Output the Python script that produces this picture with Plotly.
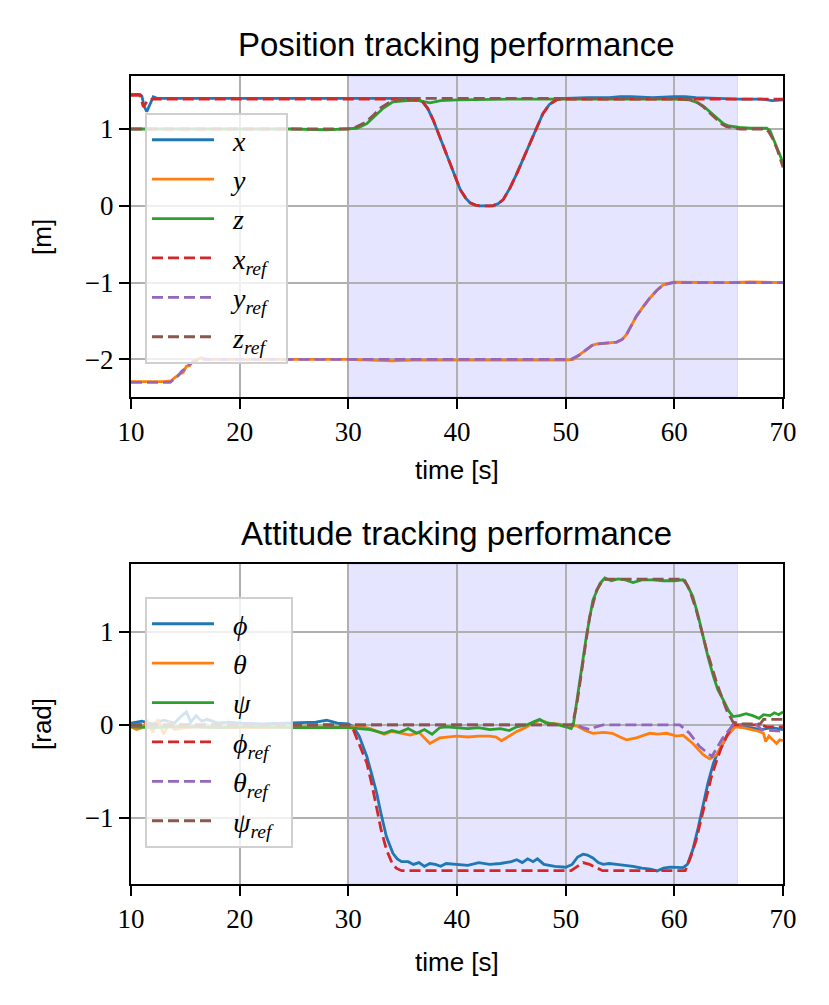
import plotly.graph_objects as go

# ---------------- data ----------------
# top panel: position [m]
t_x = [10, 10.8, 11.0, 11.2, 11.45, 11.7, 12.05, 12.4, 15, 20, 25, 30, 36.0, 36.8, 37.3, 37.8,
       38.3, 38.7, 39.35, 39.8, 40.3, 40.8, 41.2, 41.7, 42.1, 43.3, 43.8, 44.25, 44.9, 45.5,
       46.1, 46.7, 47.3, 47.9, 48.5, 49.2, 50, 52, 54, 55, 56, 58, 60, 61, 62, 64, 66, 68, 69, 70]
pos_x = [1.45, 1.45, 1.43, 1.30, 1.225, 1.30, 1.42, 1.40, 1.40, 1.40, 1.40, 1.40, 1.40, 1.36, 1.27, 1.12,
         0.94, 0.77, 0.56, 0.38, 0.21, 0.10, 0.04, 0.01, 0.0, 0.0, 0.03, 0.08, 0.24, 0.42,
         0.62, 0.81, 1.01, 1.20, 1.32, 1.385, 1.40, 1.41, 1.41, 1.42, 1.42, 1.41, 1.42, 1.42, 1.41, 1.40, 1.39, 1.39, 1.37, 1.38]

t_xref = [10, 10.83, 11.13, 11.59, 12.0, 20, 30, 36.0, 36.8, 37.3, 37.8, 38.3, 38.7, 39.35, 39.8,
          40.3, 40.8, 41.2, 41.7, 42.1, 43.3, 43.8, 44.25, 44.9, 45.5, 46.1, 46.7, 47.3, 47.9,
          48.5, 49.2, 50, 60, 70]
pos_xref = [1.44, 1.44, 1.29, 1.38, 1.39, 1.39, 1.39, 1.39, 1.36, 1.27, 1.12, 0.94, 0.77, 0.56, 0.38,
            0.21, 0.10, 0.04, 0.01, 0.0, 0.0, 0.03, 0.08, 0.24, 0.42, 0.62, 0.81, 1.01, 1.20,
            1.32, 1.385, 1.39, 1.39, 1.39]

t_y = [10, 13.0, 13.7, 14.0, 14.5, 14.8, 15.1, 15.4, 15.7, 16.0, 16.4, 17, 20, 25, 30, 32, 34, 36,
       40, 45, 50, 50.7, 51.3, 51.9, 52.4, 52.85, 53.8, 54.7, 55.2, 55.6, 56.0, 56.5, 57.1, 57.75,
       58.4, 58.97, 59.9, 62, 65, 67, 70]
pos_y = [-2.29, -2.29, -2.28, -2.24, -2.19, -2.17, -2.09, -2.08, -2.02, -2.01, -1.98, -2.0, -2.0, -2.0, -2.0, -2.01, -2.02, -2.01,
         -2.01, -2.01, -2.01, -2.0, -1.94, -1.87, -1.82, -1.80, -1.79, -1.775, -1.74, -1.675, -1.57, -1.44, -1.32, -1.20,
         -1.10, -1.03, -0.995, -1.0, -1.0, -0.99, -1.0]

t_yref = [10, 13.6, 14.3, 14.7, 15.0, 15.4, 15.8, 16.3, 30, 50.5, 51.3, 51.9, 52.4, 52.85, 53.8,
          54.7, 55.2, 55.6, 56.0, 56.5, 57.1, 57.75, 58.4, 58.97, 59.9, 70]
pos_yref = [-2.30, -2.30, -2.22, -2.15, -2.12, -2.06, -2.03, -2.0, -2.0, -2.0, -1.94, -1.87, -1.82, -1.80, -1.79,
            -1.775, -1.74, -1.675, -1.57, -1.44, -1.32, -1.20, -1.10, -1.03, -1.0, -1.0]

t_z = [10, 20, 25, 28, 30, 30.8, 31.7, 32.4, 33.2, 34.1, 35.4, 36.5, 37.5, 38.5, 40, 45, 50, 55, 60,
       61.4, 62.0, 62.65, 63.3, 63.9, 64.5, 65.0, 66.0, 67, 68.5, 68.8, 69.25, 69.6, 70]
pos_z = [1.00, 1.00, 1.00, 0.99, 1.00, 1.01, 1.07, 1.16, 1.27, 1.355, 1.37, 1.37, 1.34, 1.37, 1.38, 1.39, 1.39, 1.39, 1.39,
         1.38, 1.35, 1.30, 1.22, 1.14, 1.07, 1.04, 1.02, 1.01, 1.01, 0.98, 0.81, 0.70, 0.56]

t_zref = [10, 30, 30.6, 31.5, 32.3, 33.0, 33.8, 34.6, 35.5, 36.5, 50, 60, 61.4, 62.0, 62.65, 63.3,
          63.9, 64.4, 64.8, 65.5, 66.0, 68.4, 68.7, 69.1, 69.5, 70]
pos_zref = [1.00, 1.00, 1.02, 1.08, 1.18, 1.28, 1.35, 1.385, 1.40, 1.40, 1.40, 1.40, 1.39, 1.36, 1.29, 1.20,
            1.12, 1.06, 1.03, 1.01, 1.00, 1.00, 0.96, 0.86, 0.72, 0.50]

# bottom panel: attitude [rad]
t_phi = [10, 11, 12, 13, 14, 14.5, 15.1, 15.5, 16, 16.5, 17, 18, 19, 20, 22, 24, 26, 27, 28, 29, 30,
         30.45, 31.0, 31.7, 32.2, 32.6, 33.0, 33.5, 34.1, 34.5, 34.9, 35.5, 36, 36.5, 37, 37.5, 38,
         38.5, 39, 40, 41, 42, 43, 44, 45, 45.5, 46, 46.5, 47, 47.4, 48, 49, 50, 50.6, 51.1, 51.6,
         52.0, 52.5, 53.0, 53.45, 54, 54.7, 55.5, 56.2, 57, 57.8, 58.4, 59, 59.6, 60.8, 61.2, 61.7,
         62.2, 62.65, 63.1, 63.6, 64.0, 64.35, 64.9, 65.4, 66, 67, 68, 69, 70]
att_phi = [0.02, 0.04, 0.01, 0.05, 0.02, 0.08, 0.14, 0.03, 0.10, 0.04, 0.06, 0.02, 0.03, 0.02, 0.01, 0.02, 0.03, 0.03, 0.05, 0.02, 0.01,
           -0.02, -0.12, -0.34, -0.55, -0.73, -0.95, -1.20, -1.38, -1.44, -1.47, -1.47, -1.50, -1.48, -1.52, -1.49, -1.50,
           -1.52, -1.49, -1.50, -1.51, -1.48, -1.50, -1.49, -1.47, -1.45, -1.48, -1.44, -1.47, -1.44, -1.50, -1.52, -1.53, -1.50, -1.42, -1.39,
           -1.40, -1.43, -1.48, -1.50, -1.49, -1.50, -1.51, -1.52, -1.54, -1.55, -1.57, -1.54, -1.53, -1.535, -1.50, -1.34,
           -1.10, -0.84, -0.62, -0.41, -0.30, -0.23, -0.10, 0.0, -0.02, -0.03, -0.05, -0.03, -0.05]

t_theta = [10, 10.5, 11, 11.5, 12, 12.5, 13, 13.5, 14, 15, 16, 18, 20, 22, 25, 28, 30, 31, 32, 33.3,
           34, 35, 35.7, 36.5, 37.5, 38.4, 39, 40, 41, 42, 43, 43.6, 44.1, 44.8, 45.5, 46.1, 46.7,
           47.6, 48.5, 50, 51.0, 51.8, 52.5, 53.5, 54.3, 55.0, 55.6, 56.5, 57.75, 58.5, 59.3, 60.2,
           60.8, 61.7, 62.65, 63.25, 63.9, 64.8, 65.6, 66.3, 67.0, 67.8, 68.2, 68.4, 68.7, 69.0,
           69.4, 69.7, 70]
att_theta = [-0.02, -0.05, -0.03, 0.04, -0.08, 0.06, -0.10, 0.02, -0.05, -0.03, -0.02, -0.03, -0.03, -0.03, -0.02, -0.03, -0.02, -0.01, -0.04, -0.10,
             -0.07, -0.09, -0.11, -0.08, -0.20, -0.14, -0.13, -0.12, -0.13, -0.12, -0.12, -0.13, -0.17, -0.12, -0.07, -0.04, 0.0,
             0.05, 0.02, 0.0, -0.01, -0.06, -0.09, -0.08, -0.09, -0.13, -0.16, -0.14, -0.09, -0.10, -0.09, -0.12,
             -0.11, -0.20, -0.32, -0.365, -0.32, -0.125, -0.02, -0.03, -0.05, -0.07, -0.09, -0.18, -0.12, -0.15,
             -0.20, -0.16, -0.17]

t_psi = [10, 12, 14, 16, 18, 20, 22, 25, 28, 30, 31, 32, 33.3, 34, 34.7, 35.5, 36.3, 37, 37.7, 38.4,
         39, 40, 41, 42, 43, 44, 44.8, 45.5, 46.4, 47.0, 47.6, 48.2, 49, 50, 50.5, 50.7, 51.3, 51.9,
         52.5, 53.15, 53.6, 54.2, 54.8, 55.5, 56.2, 57, 58, 59, 60, 60.8, 61.2, 61.7, 62.2, 62.65,
         63.1, 63.6, 64.0, 64.5, 65.0, 65.4, 66.0, 66.6, 67.2, 67.8, 68.2, 68.8, 69.2, 69.6, 70]
att_psi = [-0.02, -0.03, -0.02, -0.02, -0.03, -0.02, -0.02, -0.03, -0.03, -0.03, -0.04, -0.05, -0.09, -0.06, -0.08, -0.04, -0.09, -0.05, -0.10, -0.03,
           -0.02, -0.03, -0.04, -0.03, -0.05, -0.04, -0.06, -0.02, 0.0, 0.03, 0.06, 0.02, 0.01, -0.02, -0.04, 0.0, 0.45, 0.95,
           1.34, 1.52, 1.58, 1.55, 1.57, 1.56, 1.53, 1.56, 1.56, 1.55, 1.55, 1.56, 1.50, 1.38, 1.17, 0.95,
           0.73, 0.52, 0.38, 0.27, 0.15, 0.09, 0.10, 0.12, 0.10, 0.07, 0.11, 0.10, 0.13, 0.11, 0.14]

t_phiref = [10, 30, 30.45, 31.0, 31.7, 32.2, 32.6, 33.0, 33.5, 34.0, 34.4, 34.9, 50.5, 51.0, 51.6,
            52.2, 52.85, 53.4, 61.0, 61.5, 62.0, 62.5, 62.96, 63.4, 63.9, 64.3, 64.8, 65.4, 68.0, 68.5, 70]
att_phiref = [0, 0, -0.05, -0.20, -0.41, -0.66, -0.91, -1.12, -1.34, -1.48, -1.54, -1.567, -1.567, -1.53, -1.48,
              -1.50, -1.54, -1.567, -1.567, -1.42, -1.24, -1.00, -0.77, -0.56, -0.38, -0.25, -0.125, 0.0, 0.0, -0.02, -0.02]

t_thetaref = [10, 51.0, 51.6, 52.2, 52.8, 53.45, 60.5, 61.4, 62.3, 63.2, 63.45, 63.9, 64.4, 64.8, 65.4, 67.6, 68.0, 70]
att_thetaref = [0, 0, -0.03, -0.05, -0.02, 0, 0, -0.09, -0.23, -0.32, -0.34, -0.25, -0.15, -0.09, 0, 0, -0.05, -0.07]

t_psiref = [10, 50.6, 51.0, 51.6, 52.2, 52.85, 53.45, 54, 60.9, 61.4, 62.0, 62.96, 63.9, 64.8, 65.4, 66, 67.9, 68.2, 70]
att_psiref = [0, 0, 0.2, 0.66, 1.16, 1.45, 1.56, 1.567, 1.567, 1.45, 1.24, 0.81, 0.45, 0.16, 0.03, 0.01, 0.01, 0.06, 0.06]

shade_start, shade_end = 30, 65.8
x_ticks = [10, 20, 30, 40, 50, 60, 70]
pos_ticks = [-2, -1, 0, 1]
att_ticks = [-1, 0, 1]

# ---------------- figure ----------------
# page body has an 8px margin, so the figure is 16px smaller than the window
W, H = 813, 989
blue, orange, green, red, purple, brown = "#1f77b4", "#ff7f0e", "#2ca02c", "#d62728", "#9467bd", "#8c564b"
lw = 2.8
dash = "11px,5px"
pad = "&nbsp;&nbsp;"

fig = go.Figure()

def add(t, v, name, color, dashed, xa, ya, leg):
    fig.add_trace(go.Scatter(
        x=t, y=v, name=pad + name + pad, mode="lines", xaxis=xa, yaxis=ya, legend=leg,
        line=dict(color=color, width=lw, dash=dash if dashed else "solid"),
    ))

add(t_x, pos_x, "<i>x</i>", blue, False, "x", "y", "legend")
add(t_y, pos_y, "<i>y</i>", orange, False, "x", "y", "legend")
add(t_z, pos_z, "<i>z</i>", green, False, "x", "y", "legend")
add(t_xref, pos_xref, "<i>x</i><sub><i>ref</i></sub>", red, True, "x", "y", "legend")
add(t_yref, pos_yref, "<i>y</i><sub><i>ref</i></sub>", purple, True, "x", "y", "legend")
add(t_zref, pos_zref, "<i>z</i><sub><i>ref</i></sub>", brown, True, "x", "y", "legend")

add(t_phi, att_phi, "<i>ϕ</i>", blue, False, "x2", "y2", "legend2")
add(t_theta, att_theta, "<i>θ</i>", orange, False, "x2", "y2", "legend2")
add(t_psi, att_psi, "<i>ψ</i>", green, False, "x2", "y2", "legend2")
add(t_phiref, att_phiref, "<i>ϕ</i><sub><i>ref</i></sub>", red, True, "x2", "y2", "legend2")
add(t_thetaref, att_thetaref, "<i>θ</i><sub><i>ref</i></sub>", purple, True, "x2", "y2", "legend2")
add(t_psiref, att_psiref, "<i>ψ</i><sub><i>ref</i></sub>", brown, True, "x2", "y2", "legend2")

tickfont = dict(family="Liberation Serif", size=27, color="black")
axis_common = dict(
    showline=True, mirror=True, linecolor="black", linewidth=2.2,
    ticks="outside", ticklen=10, tickwidth=2.2, tickcolor="black",
    showgrid=True, gridcolor="#b0b0b0", gridwidth=1.5, zeroline=False,
    tickfont=tickfont, automargin=False,
)

legend_common = dict(
    bgcolor="rgba(255,255,255,0.8)", bordercolor="#d0d0d0", borderwidth=2,
    font=dict(family="Liberation Serif", size=28, color="black"),
    xanchor="left", yanchor="top", itemwidth=62, tracegroupgap=0,
)

fig.update_layout(
    width=W, height=H,
    margin=dict(l=0, r=0, t=0, b=0),
    paper_bgcolor="white", plot_bgcolor="white",
    xaxis=dict(domain=[0.1513, 0.9533], anchor="y", range=[10, 70], tickvals=x_ticks, **axis_common),
    yaxis=dict(domain=[0.6067, 0.9312], anchor="x", range=[-2.49, 1.69], tickvals=pos_ticks, **axis_common),
    xaxis2=dict(domain=[0.1513, 0.9533], anchor="y2", range=[10, 70], tickvals=x_ticks, **axis_common),
    yaxis2=dict(domain=[0.1143, 0.4378], anchor="x2", range=[-1.71, 1.73], tickvals=att_ticks, **axis_common),
    legend=dict(x=0.1685, y=0.8938, **legend_common),
    legend2=dict(x=0.1685, y=0.4044, **legend_common),
    shapes=[
        dict(type="rect", xref="x", yref="y domain", x0=shade_start, x1=shade_end, y0=0, y1=1,
             fillcolor="rgba(0,0,255,0.1)", line=dict(color="rgba(0,0,255,0.12)", width=1), layer="below"),
        dict(type="rect", xref="x2", yref="y2 domain", x0=shade_start, x1=shade_end, y0=0, y1=1,
             fillcolor="rgba(0,0,255,0.1)", line=dict(color="rgba(0,0,255,0.12)", width=1), layer="below"),
    ],
)

sans = "Liberation Sans"
labels = [
    ("Position tracking performance", 449, 37, 33, 0),
    ("Attitude tracking performance", 449, 525, 33, 0),
    ("time [s]", 449, 462, 26, 0),
    ("time [s]", 449, 954, 26, 0),
    ("[m]", 34, 229, 26, -90),
    ("[rad]", 34, 716, 26, -90),
]
for text, px, py, size, angle in labels:
    fig.add_annotation(text=text, x=px / W, y=1 - py / H, xref="paper", yref="paper", showarrow=False,
                       xanchor="center", yanchor="middle", textangle=angle,
                       font=dict(family=sans, size=size, color="black"))

fig.write_html("out.html")
